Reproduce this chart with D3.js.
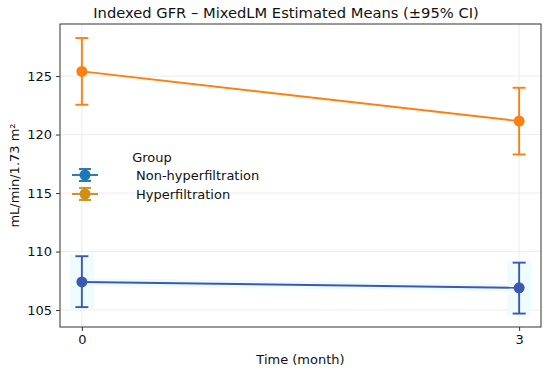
<!DOCTYPE html>
<html>
<head>
<meta charset="utf-8">
<script src="https://cdn.jsdelivr.net/npm/d3@7"></script>
<style>
  body { margin: 0; background: #fff; }
  svg text { font-family: "DejaVu Sans", sans-serif; fill: #111; }
</style>
</head>
<body>
<svg class="svgChart"></svg>
<script>
// chart data
var months = [0, 3];
var groups = ["Non-hyperfiltration", "Hyperfiltration"];
var nonMean = [107.4, 106.9];
var nonLow = [105.25, 104.7];
var nonHigh = [109.6, 109.05];
var hypMean = [125.4, 121.15];
var hypLow = [122.55, 118.3];
var hypHigh = [128.25, 124.0];
var yTicks = [105, 110, 115, 120, 125];
var xTicks = [0, 3];

var margin = { top: 24, right: 9, bottom: 46, left: 60 };
var fullW = 550, fullH = 373;
var width = fullW - margin.left - margin.right;
var height = fullH - margin.top - margin.bottom;

var svg = d3.select('.svgChart')
  .attr('width', fullW)
  .attr('height', fullH);

var g = svg.append('g')
  .attr('transform', 'translate(' + margin.left + ',' + margin.top + ')');

var xScale = d3.scaleLinear().domain([-0.15, 3.15]).range([0, width]);
var yScale = d3.scaleLinear().domain([103.55, 129.45]).range([height, 0]);

// grid
g.append('g').selectAll('line')
  .data(yTicks).enter().append('line')
    .attr('x1', 0).attr('x2', width)
    .attr('y1', d => yScale(d)).attr('y2', d => yScale(d))
    .attr('stroke', '#e8e8e8').attr('stroke-width', 0.8);
g.append('g').selectAll('line')
  .data(xTicks).enter().append('line')
    .attr('y1', 0).attr('y2', height)
    .attr('x1', d => xScale(d)).attr('x2', d => xScale(d))
    .attr('stroke', '#e8e8e8').attr('stroke-width', 0.8);

var series = [
  { name: groups[0], mean: nonMean, low: nonLow, high: nonHigh, color: '#3c58b2', halo: '#effcff' },
  { name: groups[1], mean: hypMean, low: hypLow, high: hypHigh, color: '#ff7f0e', halo: null }
];

var line = d3.line()
  .x((d, i) => xScale(months[i]))
  .y(d => yScale(d));

series.forEach(function(s){
  var sg = g.append('g');
  if (s.halo) {
    // faint glow around the blue series
    sg.selectAll('rect.halo')
      .data(months).enter().append('rect')
        .attr('x', d => xScale(d) - 12)
        .attr('width', 24)
        .attr('y', (d, i) => yScale(s.high[i]) - 2)
        .attr('height', (d, i) => yScale(s.low[i]) - yScale(s.high[i]) + 4)
        .attr('fill', s.halo);
    sg.append('path')
      .datum(s.mean)
      .attr('d', line)
      .attr('fill', 'none')
      .attr('stroke', s.halo)
      .attr('stroke-width', 8);
  }
  sg.append('path')
    .datum(s.mean)
    .attr('d', line)
    .attr('fill', 'none')
    .attr('stroke', s.color)
    .attr('stroke-width', 1.9);
  // error bars
  months.forEach(function(m, i){
    var x = xScale(m);
    sg.append('line')
      .attr('x1', x).attr('x2', x)
      .attr('y1', yScale(s.low[i])).attr('y2', yScale(s.high[i]))
      .attr('stroke', s.color).attr('stroke-width', 1.9);
    [s.low[i], s.high[i]].forEach(function(v){
      sg.append('line')
        .attr('x1', x - 6.5).attr('x2', x + 6.5)
        .attr('y1', yScale(v)).attr('y2', yScale(v))
        .attr('stroke', s.color).attr('stroke-width', 1.9);
    });
  });
  sg.selectAll('circle')
    .data(s.mean).enter().append('circle')
      .attr('cx', (d, i) => xScale(months[i]))
      .attr('cy', d => yScale(d))
      .attr('r', 5.5)
      .attr('fill', s.color);
});

// axes
var xAxis = d3.axisBottom(xScale).tickValues(xTicks).tickFormat(d3.format('d')).tickSize(4).tickPadding(4);
var yAxis = d3.axisLeft(yScale).tickValues(yTicks).tickSize(4).tickPadding(4);

var xg = g.append('g')
  .attr('transform', 'translate(0,' + height + ')')
  .call(xAxis);
var yg = g.append('g').call(yAxis);
[xg, yg].forEach(function(a){
  a.select('.domain').remove();
  a.selectAll('line').attr('stroke', '#333').attr('stroke-width', 1);
  a.selectAll('text').attr('font-size', 13).attr('fill', '#111');
});

// frame
g.append('rect')
  .attr('width', width).attr('height', height)
  .attr('fill', 'none').attr('stroke', '#333').attr('stroke-width', 1);

// title and labels
svg.append('text')
  .attr('x', 286)
  .attr('y', 18)
  .attr('text-anchor', 'middle')
  .attr('font-size', 14.7)
  .text('Indexed GFR \u2013 MixedLM Estimated Means (\u00b195% CI)');

svg.append('text')
  .attr('x', margin.left + width / 2)
  .attr('y', 364)
  .attr('text-anchor', 'middle')
  .attr('font-size', 13)
  .text('Time (month)');

svg.append('text')
  .attr('transform', 'translate(19,' + (margin.top + height / 2) + ') rotate(-90)')
  .attr('text-anchor', 'middle')
  .attr('font-size', 13)
  .text('mL/min/1.73 m\u00b2');

// legend
var legendColors = ['#1f77b4', '#cf8f16'];
var legend = svg.append('g').attr('transform', 'translate(72,157)');
legend.append('text')
  .attr('x', 80).attr('y', 5)
  .attr('text-anchor', 'middle')
  .attr('font-size', 13)
  .text('Group');
var items = legend.selectAll('g.item')
  .data(groups).enter().append('g')
    .attr('transform', (d, i) => 'translate(0,' + (18 + i * 19) + ')');
items.append('line')
  .attr('x1', 0).attr('x2', 26).attr('y1', 0).attr('y2', 0)
  .attr('stroke', (d, i) => legendColors[i]).attr('stroke-width', 1.9);
items.append('line')
  .attr('x1', 13).attr('x2', 13).attr('y1', -6).attr('y2', 6)
  .attr('stroke', (d, i) => legendColors[i]).attr('stroke-width', 1.9);
items.each(function(d, i){
  [-6, 6].forEach(function(dy){
    d3.select(this).append('line')
      .attr('x1', 7).attr('x2', 19).attr('y1', dy).attr('y2', dy)
      .attr('stroke', legendColors[i]).attr('stroke-width', 1.9);
  }, this);
});
items.append('circle')
  .attr('cx', 13).attr('cy', 0).attr('r', 5.5)
  .attr('fill', (d, i) => legendColors[i]);
items.append('text')
  .attr('x', 64).attr('y', 5)
  .attr('font-size', 13)
  .text(d => d);
</script>
</body>
</html>
